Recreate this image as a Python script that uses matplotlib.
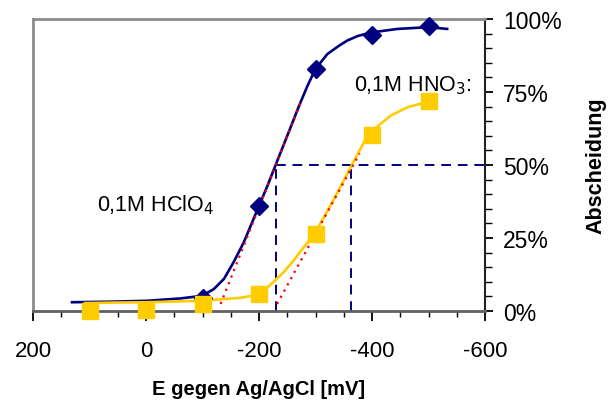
import matplotlib
matplotlib.use("Agg")
import matplotlib.pyplot as plt
from matplotlib.ticker import MultipleLocator, FuncFormatter

plt.rcParams['font.family'] = ['Liberation Sans', 'DejaVu Sans']

# measured points
hclo4_x = [-100, -200, -300, -400, -500]
hclo4_y = [4.5, 35.9, 82.9, 94.5, 97.7]
hno3_x = [100, 0, -100, -200, -300, -400, -500]
hno3_y = [0.0, 0.5, 2.4, 5.8, 26.4, 60.3, 72.0]

# fitted curves
hclo4_fit_x = [131, 60, -2, -61, -99, -120, -138, -155, -173, -200, -215, -229, -250,
               -271, -286, -300, -321, -342, -356, -375, -399, -445, -500, -533]
hclo4_fit_y = [3.0, 3.2, 3.5, 4.3, 5.2, 7.5, 11.0, 16.7, 23.5, 36.0, 42.9, 49.8, 60.0,
               70.3, 77.2, 82.9, 88.0, 90.9, 92.6, 94.2, 95.4, 96.6, 97.2, 96.6]
hno3_fit_x = [108, 50, -2, -61, -101, -138, -167, -190, -210, -226, -245, -262, -280,
              -300, -333, -362, -389, -404, -433, -463, -498]
hno3_fit_y = [2.7, 2.9, 3.0, 3.3, 3.5, 4.1, 4.5, 5.3, 7.2, 10.0, 13.6, 17.5, 22.0,
              27.0, 38.4, 49.2, 58.9, 62.3, 66.9, 69.8, 71.6]

# tangents
tan1_x = [-132, -274]
tan1_y = [2.4, 71.5]
tan2_x = [-232, -378]
tan2_y = [2.4, 54.0]

half_x1 = -230
half_x2 = -363

navy = '#000080'
yellow = '#FFCC00'

fig = plt.figure(figsize=(6.12, 4.10), dpi=100)
ax = fig.add_axes([33 / 612, 98 / 410, 452 / 612, 292 / 410])

ax.plot(hclo4_fit_x, hclo4_fit_y, color=navy, lw=1.9, zorder=3, solid_joinstyle='round')
ax.plot(hno3_fit_x, hno3_fit_y, color=yellow, lw=1.9, zorder=3, solid_joinstyle='round')
ax.plot(tan1_x, tan1_y, color='red', lw=1.6, ls=(0, (1, 2.2)), zorder=4)
ax.plot(tan2_x, tan2_y, color='red', lw=1.6, ls=(0, (1, 2.2)), zorder=4)

ax.plot(hclo4_x, hclo4_y, 'D', color=navy, ms=9.5, zorder=5, clip_on=False)
ax.plot(hno3_x, hno3_y, 's', color=yellow, ms=11, zorder=6, clip_on=False)

dash = (0, (5, 3.5))
ax.plot([half_x1, -600], [50, 50], color=navy, lw=1.4, ls=dash, zorder=2)
ax.plot([half_x1, half_x1], [0, 50], color=navy, lw=1.4, ls=dash, zorder=2)
ax.plot([half_x2, half_x2], [0, 50], color=navy, lw=1.4, ls=dash, zorder=2)

ax.text(87, 36.5, '0,1M HClO$_4$', fontsize=15.5, va='center', ha='left')
ax.text(-368, 77.5, '0,1M HNO$_3$:', fontsize=15.5, va='center', ha='left')

ax.set_xlim(200, -600)
ax.set_ylim(0, 100)

ax.xaxis.set_major_locator(MultipleLocator(200))
ax.xaxis.set_minor_locator(MultipleLocator(50))
ax.yaxis.set_major_locator(MultipleLocator(25))
ax.yaxis.set_minor_locator(MultipleLocator(5))
ax.yaxis.set_major_formatter(FuncFormatter(lambda v, p: f'{v:.0f}%'))
ax.xaxis.set_major_formatter(FuncFormatter(lambda v, p: f'{v:.0f}'))

ax.yaxis.tick_right()
ax.yaxis.set_label_position('right')
ax.tick_params(axis='x', which='major', direction='out', length=7, width=1.3, labelsize=16, pad=14)
ax.tick_params(axis='x', which='minor', direction='out', length=4, width=1)
ax.tick_params(axis='y', which='major', direction='out', length=6, width=1.3, labelsize=16.5, pad=7)
ax.tick_params(axis='y', which='minor', direction='out', length=5, width=1)

for s in ['left', 'top']:
    ax.spines[s].set_color('#8c8c8c')
    ax.spines[s].set_linewidth(2)
ax.spines['bottom'].set_color('#606060')
ax.spines['bottom'].set_linewidth(2)
ax.spines['right'].set_color('#222222')
ax.spines['right'].set_linewidth(1.5)

ax.set_xlabel('E gegen Ag/AgCl [mV]', fontsize=14.5, fontweight='bold', labelpad=13)
ax.set_ylabel('Abscheidung', fontsize=15.5, fontweight='bold', labelpad=17)

fig.savefig('out.png', dpi=100)
